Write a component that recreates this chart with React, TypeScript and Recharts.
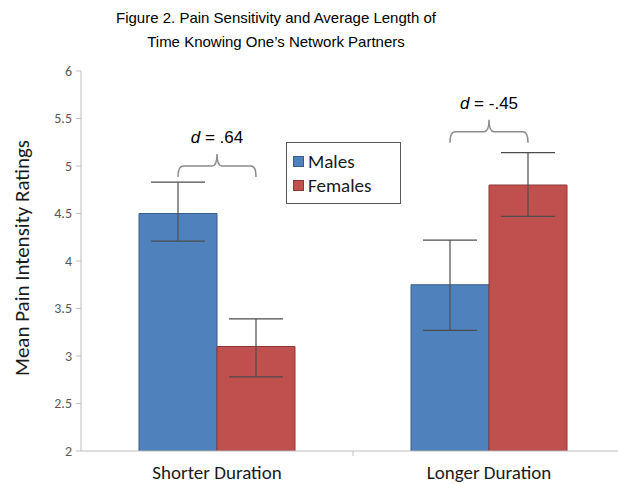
import { BarChart, Bar, XAxis, YAxis, ErrorBar, ReferenceDot, Label } from 'recharts';

const categories = ['Shorter Duration', 'Longer Duration'];
const males = [4.5, 3.75];
const females = [3.1, 4.8];
// [below, above] distances from the bar top
const maleErr = [[0.29, 0.33], [0.48, 0.47]];
const femaleErr = [[0.32, 0.29], [0.33, 0.34]];
const effectSizes = ['.64', '-.45'];
const braceLevels = [5.0, 5.36];
const yTicks = [2, 2.5, 3, 3.5, 4, 4.5, 5, 5.5, 6];

const BLUE = '#4f81bd';
const RED = '#c0504d';
const AXIS = '#bfbfbf';
const BAR_SIZE = 78;
const CALIBRI = 'Carlito, Lato, "Open Sans", sans-serif';
const ARIAL = '"Liberation Sans", Arial, sans-serif';

const chartData = categories.map((c, i) => ({
  category: c,
  males: males[i],
  females: females[i],
  maleErr: maleErr[i],
  femaleErr: femaleErr[i],
}));

const X_AXIS_H = 30;
const margin = { top: 71, right: 15, bottom: 33 - X_AXIS_H, left: 0 };
const CHART_W = 640;
const CHART_H = 484;
const Y_AXIS_W = 81;
const plotBottom = CHART_H - margin.bottom - X_AXIS_H;
const bandWidth = (CHART_W - margin.left - margin.right - Y_AXIS_W) / categories.length;

function Brace(props: any) {
  const { cx, cy, label } = props;
  const x1 = cx - BAR_SIZE / 2;
  const x2 = cx + BAR_SIZE / 2;
  const d = `M${x1},${cy + 11} Q${x1},${cy} ${x1 + 5},${cy} L${cx - 5},${cy} Q${cx},${cy} ${cx},${cy - 12} Q${cx},${cy} ${cx + 5},${cy} L${x2 - 5},${cy} Q${x2},${cy} ${x2},${cy + 11}`;
  return (
    <g>
      <path d={d} fill="none" stroke="#8c8c8c" strokeWidth={1.5} />
      <text x={cx} y={cy - 23} textAnchor="middle" fontFamily={ARIAL} fontSize={17} fill="#000">
        <tspan fontStyle="italic">d</tspan>
        {` = ${label}`}
      </text>
    </g>
  );
}

function CategoryTick(props: any) {
  const { x, payload, index } = props;
  return (
    <g>
      <text x={x} y={plotBottom + 28} textAnchor="middle" fontFamily={CALIBRI} fontSize={19} fill="#1a1a1a">
        {payload.value}
      </text>
      {index === 0 && (
        <line x1={x + bandWidth / 2} x2={x + bandWidth / 2} y1={plotBottom} y2={plotBottom + 5} stroke={AXIS} />
      )}
    </g>
  );
}

function LegendBox() {
  const items = [
    { name: 'Males', color: BLUE, border: '#385d8a' },
    { name: 'Females', color: RED, border: '#8c3836' },
  ];
  return (
    <div
      style={{
        position: 'absolute',
        left: 286,
        top: 142,
        width: 115,
        height: 62,
        border: '1px solid #595959',
        background: '#fff',
        boxSizing: 'border-box',
        paddingTop: 6,
        paddingLeft: 6,
        zIndex: 2,
      }}
    >
      {items.map((it) => (
        <div key={it.name} style={{ display: 'flex', alignItems: 'center', height: 24 }}>
          <span
            style={{
              width: 9,
              height: 9,
              background: it.color,
              border: `1px solid ${it.border}`,
              marginRight: 4,
            }}
          />
          <span style={{ fontFamily: CALIBRI, fontSize: 19, color: '#1a1a1a' }}>{it.name}</span>
        </div>
      ))}
    </div>
  );
}

export default function App() {
  return (
    <div
      style={{
        position: 'fixed',
        left: 0,
        top: 0,
        width: 618,
        height: 484,
        overflow: 'hidden',
        background: '#fff',
      }}
    >
      <div
        style={{
          position: 'absolute',
          left: 0,
          top: 6,
          width: 552,
          textAlign: 'center',
          fontFamily: ARIAL,
          fontSize: 15,
          lineHeight: '24px',
          color: '#000',
          zIndex: 1,
        }}
      >
        Figure 2. Pain Sensitivity and Average Length of
        <br />
        Time Knowing One’s Network Partners
      </div>
      <LegendBox />
      <BarChart
        width={CHART_W}
        height={CHART_H}
        data={chartData}
        margin={margin}
        barGap={0}
        barSize={BAR_SIZE}
      >
        <XAxis
          dataKey="category"
          height={X_AXIS_H}
          axisLine={{ stroke: AXIS }}
          tickLine={false}
          tick={<CategoryTick />}
          interval={0}
        />
        <YAxis
          type="number"
          domain={[2, 6]}
          ticks={yTicks}
          width={Y_AXIS_W}
          axisLine={{ stroke: AXIS }}
          tickLine={{ stroke: AXIS }}
          tickSize={5}
          tickMargin={4}
          tick={{ fontFamily: CALIBRI, fontSize: 14, fill: '#595959' }}
          allowDataOverflow
        >
          <Label
            content={() => (
              <text
                transform="translate(24,258) rotate(-90)"
                textAnchor="middle"
                dominantBaseline="middle"
                fontFamily={CALIBRI}
                fontSize={21}
                fill="#1a1a1a"
              >
                Mean Pain Intensity Ratings
              </text>
            )}
          />
        </YAxis>
        <Bar dataKey="males" name="Males" fill={BLUE} stroke="#385d8a" strokeWidth={1} isAnimationActive={false}>
          <ErrorBar dataKey="maleErr" width={27} stroke="#4d4d4d" strokeWidth={1.2} direction="y" />
        </Bar>
        <Bar dataKey="females" name="Females" fill={RED} stroke="#8c3836" strokeWidth={1} isAnimationActive={false}>
          <ErrorBar dataKey="femaleErr" width={27} stroke="#4d4d4d" strokeWidth={1.2} direction="y" />
        </Bar>
        {categories.map((c, i) => (
          <ReferenceDot
            key={c}
            x={c}
            y={braceLevels[i]}
            ifOverflow="visible"
            shape={(p: any) => <Brace {...p} label={effectSizes[i]} />}
          />
        ))}
      </BarChart>
    </div>
  );
}
